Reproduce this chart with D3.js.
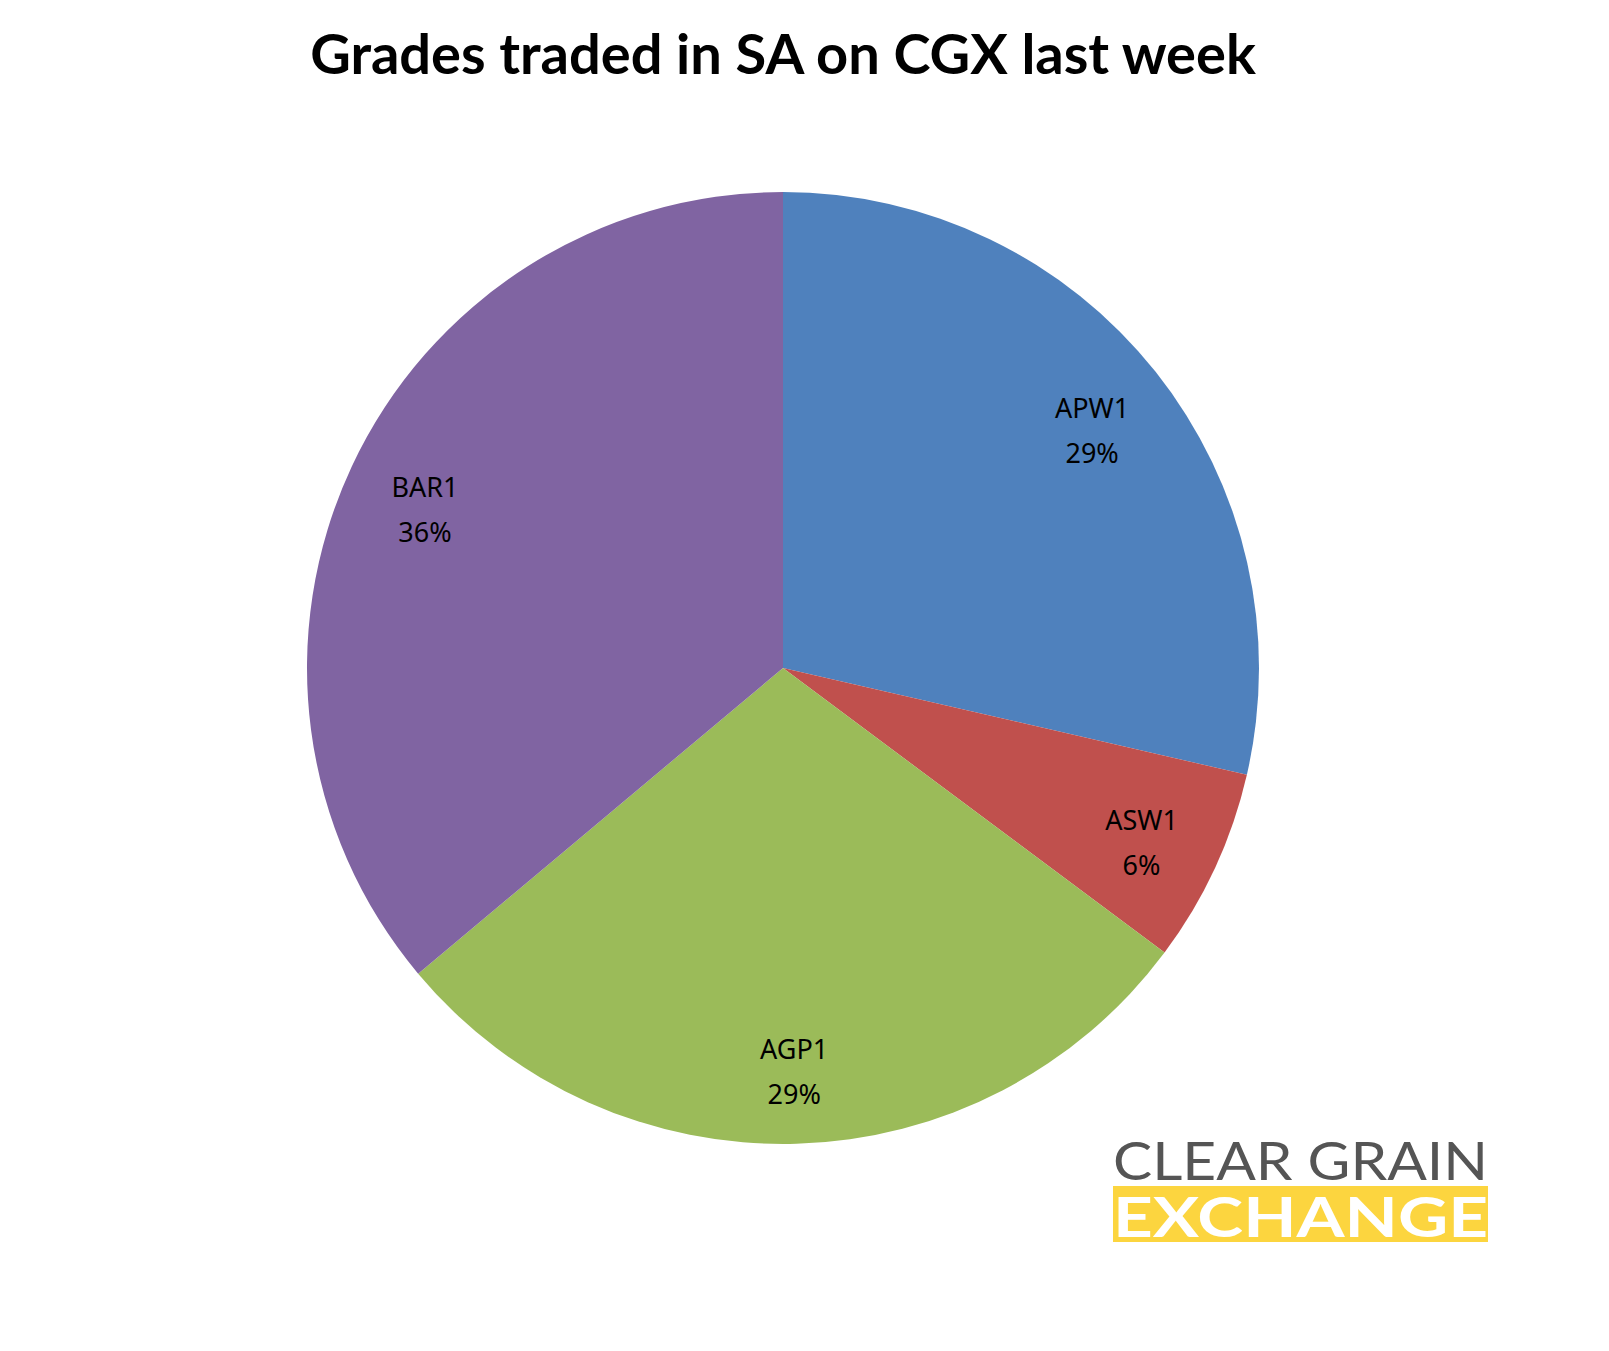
<!DOCTYPE html><html><head><meta charset="utf-8"><script src="https://cdn.jsdelivr.net/npm/d3@7"></script>
<style>body{margin:0;background:#fff}</style></head><body><svg width="1609" height="1351"></svg><script>
const categories=["APW1","ASW1","AGP1","BAR1"];
const values=[28.6,6.6,28.7,36.1];
const pctLabels=["29%","6%","29%","36%"];
const colors=["#4F81BD","#C0504D","#9BBB59","#8064A2"];
const svg=d3.select("svg");
svg.append("text").attr("x",783).attr("y",74).attr("text-anchor","middle").attr("font-family","Lato, 'Open Sans', sans-serif").attr("font-weight","bold").attr("font-size",56).text("Grades traded in SA on CGX last week");
const cx=783,cy=668,R=476;
const pie=d3.pie().sort(null)(values);
const arc=d3.arc().innerRadius(0).outerRadius(R);
const g=svg.append("g").attr("transform",`translate(${cx},${cy})`);
g.selectAll("path").data(pie).join("path").attr("d",arc).attr("fill",(d,i)=>colors[i]);
const la=d3.arc().innerRadius(R*0.83).outerRadius(R*0.83);
pie.forEach((d,i)=>{const [x,y]=la.centroid(d);
 const t=g.append("text").attr("x",x).attr("y",y).attr("text-anchor","middle").attr("font-family","'Noto Sans', sans-serif").attr("font-size",27).attr("fill","#000");
 t.append("tspan").attr("x",x).attr("dy",-4).text(categories[i]);
 t.append("tspan").attr("x",x).attr("dy",45).text(pctLabels[i]);});
svg.append("text").attr("x",1113).attr("y",1180).attr("font-family","Lato, sans-serif").attr("font-size",52).attr("fill","#555").attr("textLength",375).attr("lengthAdjust","spacingAndGlyphs").text("CLEAR GRAIN");
svg.append("rect").attr("x",1113).attr("y",1186).attr("width",375).attr("height",56).attr("fill","#FCD53F");
svg.append("text").attr("x",1113).attr("y",1237).attr("font-family","Lato, sans-serif").attr("font-weight","bold").attr("font-size",56).attr("fill","#fff").attr("textLength",375).attr("lengthAdjust","spacingAndGlyphs").text("EXCHANGE");
</script></body></html>
